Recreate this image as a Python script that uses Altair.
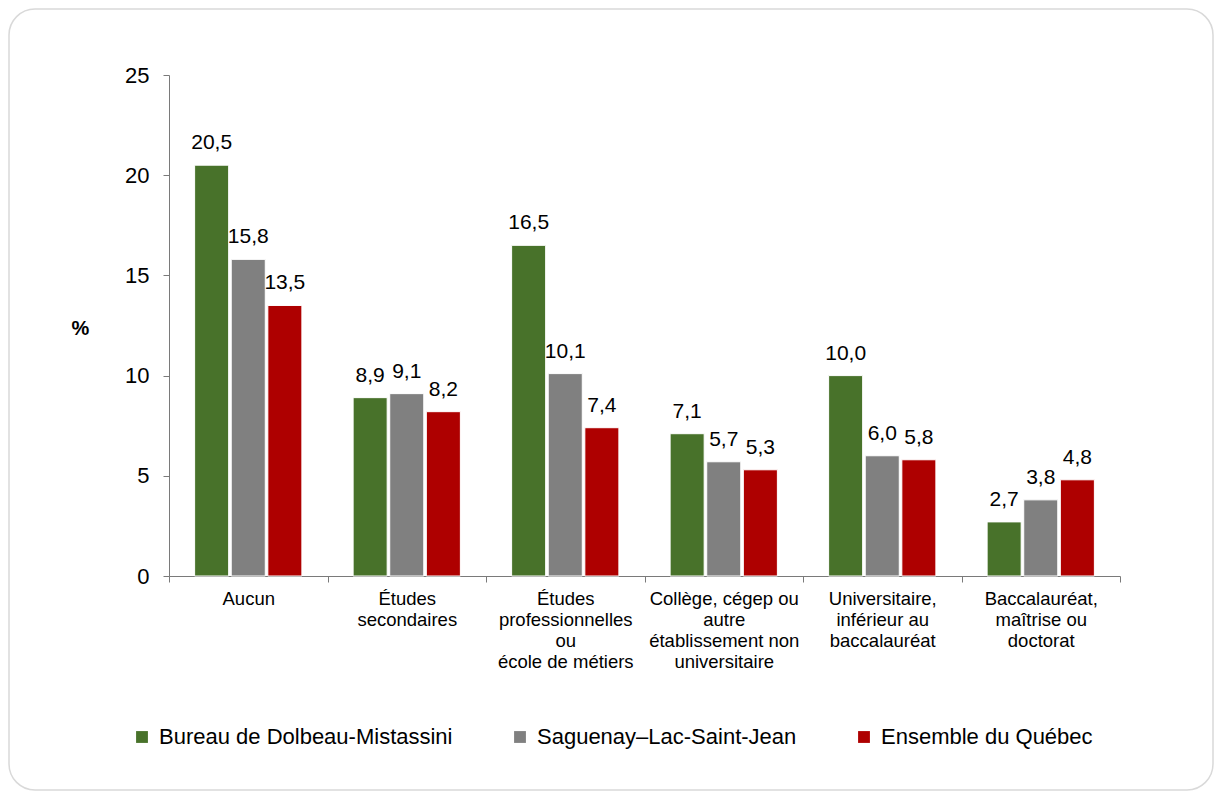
import altair as alt
import pandas as pd

categories = [
    "Aucun",
    "Études|secondaires",
    "Études|professionnelles|ou|école de métiers",
    "Collège, cégep ou|autre|établissement non|universitaire",
    "Universitaire,|inférieur au|baccalauréat",
    "Baccalauréat,|maîtrise ou|doctorat",
]
series = ["Bureau de Dolbeau-Mistassini", "Saguenay–Lac-Saint-Jean", "Ensemble du Québec"]
colors = ["#48722A", "#808080", "#AE0000"]

dolbeau = [20.5, 8.9, 16.5, 7.1, 10.0, 2.7]
saguenay = [15.8, 9.1, 10.1, 5.7, 6.0, 3.8]
quebec = [13.5, 8.2, 7.4, 5.3, 5.8, 4.8]

rows = []
for s, vals in zip(series, [dolbeau, saguenay, quebec]):
    for c, v in zip(categories, vals):
        rows.append({"cat": c, "serie": s, "val": v, "lab": f"{v:.1f}".replace(".", ",")})
df = pd.DataFrame(rows)

FONT = "Liberation Sans"
AXC = "#7a7a7a"

x = alt.X(
    "cat:N",
    sort=categories,
    scale=alt.Scale(paddingInner=0, paddingOuter=0),
    axis=alt.Axis(
        title=None,
        labelAngle=0,
        labelExpr="split(datum.label, '|')",
        labelFontSize=18.5,
        labelLineHeight=21,
        labelBaseline="top",
        labelPadding=7,
        labelColor="#000000",
        labelFont=FONT,
        tickBand="extent",
        tickSize=6,
        tickColor=AXC,
        domainColor=AXC,
        labelLimit=300,
    ),
)
xoff = alt.XOffset(
    "serie:N",
    sort=series,
    scale=alt.Scale(paddingInner=0.07, paddingOuter=0.7),
)
y = alt.Y(
    "val:Q",
    scale=alt.Scale(domain=[0, 25], nice=False),
    axis=alt.Axis(
        values=[0, 5, 10, 15, 20, 25],
        grid=False,
        title="%",
        titleAngle=0,
        titleX=-89,
        titleY=253,
        titleAlign="center",
        titleBaseline="middle",
        titleFontSize=20,
        titleFontWeight="bold",
        titleFont=FONT,
        titleColor="#000000",
        labelFontSize=22,
        labelFont=FONT,
        labelColor="#000000",
        labelPadding=14,
        tickSize=6,
        tickColor=AXC,
        domainColor=AXC,
    ),
)
color = alt.Color(
    "serie:N",
    sort=series,
    scale=alt.Scale(domain=series, range=colors),
    legend=alt.Legend(
        title=None,
        orient="none",
        direction="horizontal",
        legendX=-38,
        legendY=651,
        symbolType="square",
        symbolSize=140,
        symbolStrokeWidth=0,
        labelFontSize=22,
        labelFont=FONT,
        labelColor="#000000",
        labelOffset=6,
        columnPadding=56,
        labelLimit=400,
    ),
)

bars = alt.Chart(df).mark_bar(stroke="white", strokeWidth=1).encode(
    x=x, xOffset=xoff, y=y, color=color
)
labels = alt.Chart(df).mark_text(
    baseline="alphabetic", dy=-16, fontSize=21, font=FONT, color="#000000"
).encode(x=x, xOffset=xoff, y=y, text="lab:N")

frame = alt.Chart(pd.DataFrame({"k": [0]})).mark_rect(
    fill="white", fillOpacity=0, stroke="#d9d9d9", strokeWidth=1.5, cornerRadius=26
).encode(
    x=alt.value(-160), x2=alt.value(1044), y=alt.value(-66), y2=alt.value(715)
)

chart = alt.layer(frame, bars, labels).properties(
    width=951,
    height=501,
    background="white",
    autosize=alt.AutoSizeParams(type="none"),
    padding={"left": 161, "top": 67, "right": 94, "bottom": 215},
).configure_view(stroke=None)

chart.save("out.html", embed_options={"renderer": "svg", "actions": False})
